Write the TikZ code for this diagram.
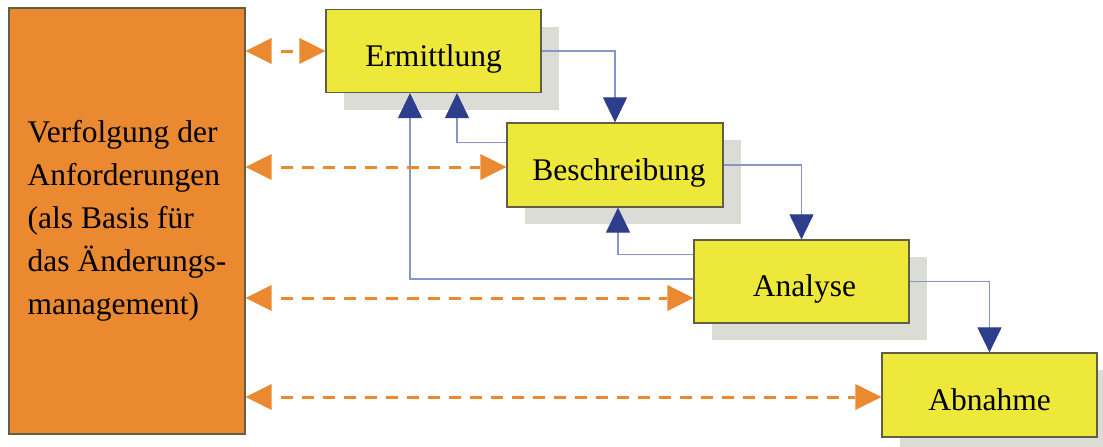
\documentclass[tikz,border=0pt]{standalone}
\usepackage{fontspec}
\setmainfont{Liberation Serif}
\usetikzlibrary{arrows.meta,shadows}

\definecolor{boxyellow}{RGB}{238,232,58}
\definecolor{trackorange}{RGB}{234,137,47}
\definecolor{boxline}{RGB}{95,95,70}
\definecolor{shadowgrey}{RGB}{220,220,214}
\definecolor{flowline}{RGB}{135,150,200}
\definecolor{flowhead}{RGB}{45,62,140}

\tikzset{
  phase/.style={draw=boxline, line width=1.2pt, fill=boxyellow,
    minimum width=215pt, minimum height=83pt, inner sep=0pt,
    text height=30pt, text depth=0pt,
    font=\fontsize{31.5pt}{36pt}\selectfont,
    drop shadow={shadow xshift=18pt, shadow yshift=-17pt,
      fill=shadowgrey, opacity=1}},
  trackbox/.style={draw=boxline, line width=1.2pt, fill=trackorange,
    minimum width=236pt, minimum height=426pt, inner sep=0pt,
    align=left, font=\fontsize{31.5pt}{43pt}\selectfont},
  flow/.style={draw=flowline, line width=1.1pt,
    -{Triangle[length=25pt,width=24pt,color=flowhead,fill=flowhead]}},
  trace/.style={draw=trackorange, line width=3pt,
    dash pattern=on 12pt off 9pt, dash phase=12pt,
    {Triangle[length=26pt,width=26pt,line width=0pt]}-{Triangle[length=26pt,width=26pt,line width=0pt]}}
}

\begin{document}
\begin{tikzpicture}[x=1pt,y=-1pt]
  \useasboundingbox (0,0) rectangle (1103,447);
  \clip (0,0) rectangle (1103,447);

  % requirement tracing box
  \node[trackbox] (track) at (127,221)
    {Verfolgung der\\Anforderungen\\(als Basis für\\das Änderungs-\\management)};

  % process phases
  \node[phase] (erm) at (433.5,51) {Ermittlung};
  \node[phase, minimum width=216pt, minimum height=84pt] (besch) at (615,165) {\hspace*{8pt}Beschreibung};
  \node[phase] (ana) at (801.5,281.5) {\hspace*{6pt}Analyse};
  \node[phase, minimum height=84pt] (abn) at (989.5,395) {Abnahme};

  % forward flow
  \draw[flow] (erm.east) -| (besch.north);
  \draw[flow] (besch.east) -| (ana.north);
  \draw[flow] (ana.east) -| (abn.north);

  % feedback flow
  \draw[flow] ([yshift=-20pt]besch.north west) -| ([xshift=23.5pt]erm.south);
  \draw[flow] ([yshift=-15pt]ana.north west) -| ([xshift=3pt]besch.south);
  \draw[flow] ([yshift=2.5pt]ana.west) -| ([xshift=-23.5pt]erm.south);

  % tracing links
  \draw[trace] (track.east |- erm.west) -- (erm.west);
  \draw[trace] ([yshift=-2pt]track.east |- besch.west) -- ([yshift=-2pt]besch.west);
  \draw[trace] ([yshift=-16.5pt]track.east |- ana.west) -- ([yshift=-16.5pt]ana.west);
  \draw[trace] ([yshift=-2pt]track.east |- abn.west) -- ([yshift=-2pt]abn.west);
\end{tikzpicture}
\end{document}
